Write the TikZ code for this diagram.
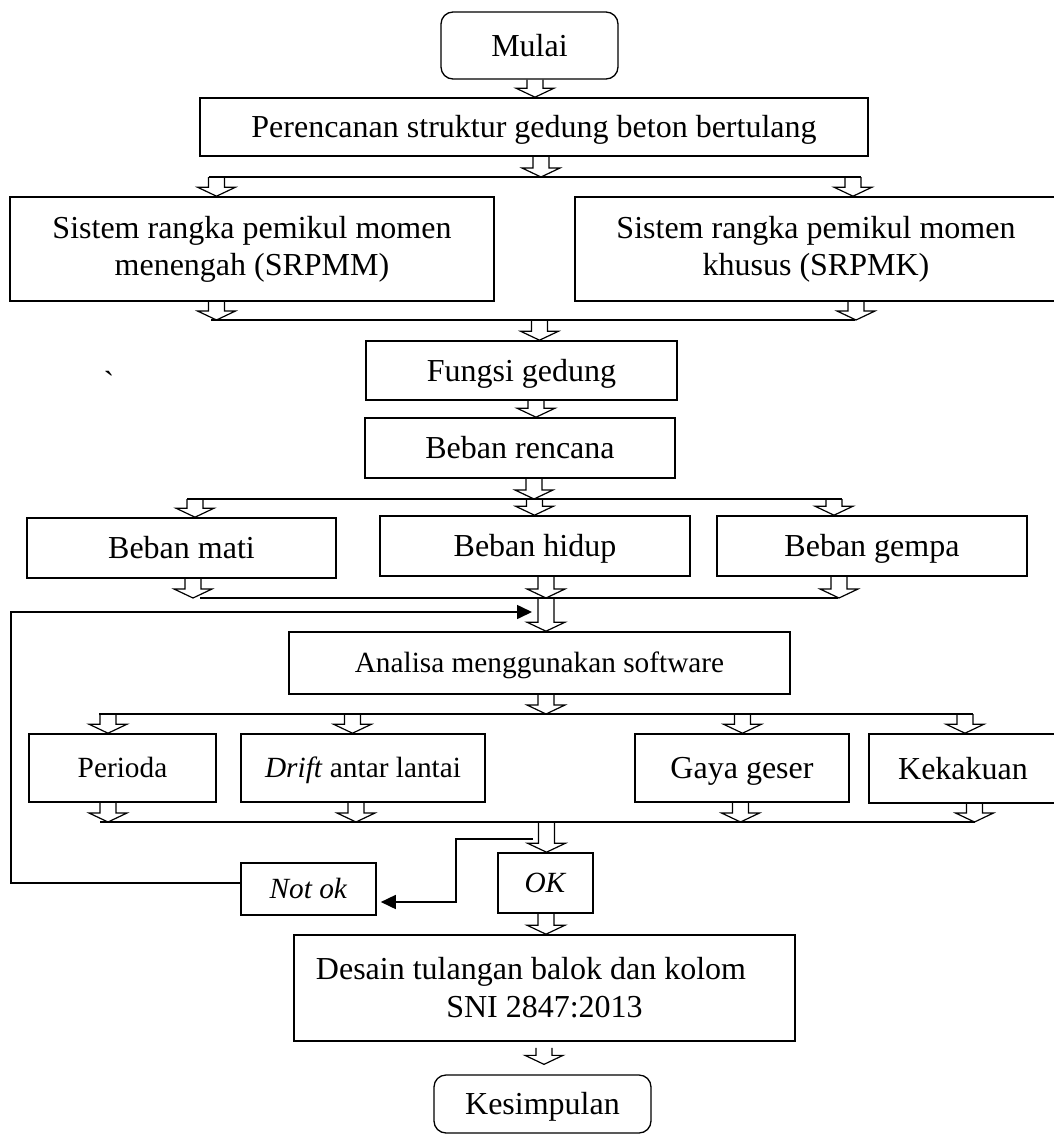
\documentclass[tikz,border=0pt]{standalone}
\usepackage{fontspec}
\setmainfont{Liberation Serif}
\usetikzlibrary{calc,arrows.meta}
\newcommand\harr[2]{%
  \path #1 coordinate (hA) #2 coordinate (hB);
  \draw[hol] let \p1=(hA), \p2=(hB) in
    (\x1-8pt,\y1) -- (\x1-8pt,\y2+9pt) -- (\x1-19pt,\y2+9pt) -- (\x1,\y2)
    -- (\x1+19pt,\y2+9pt) -- (\x1+8pt,\y2+9pt) -- (\x1+8pt,\y1);}
\begin{document}
\begin{tikzpicture}[x=1pt,y=-1pt,
  box/.style={draw, line width=1.6pt, inner sep=0pt, text height=21pt, text depth=0pt,
    font=\fontsize{32}{37}\selectfont},
  sbox/.style={box, text height=19.4pt, font=\fontsize{29.3}{34}\selectfont},
  rbox/.style={box, line width=1.3pt, rounded corners=12pt},
  mbox/.style={draw, line width=1.6pt, inner sep=0pt, align=center},
  hol/.style={line width=1.2pt, line join=miter},
  bus/.style={line width=1.6pt},
  fb/.style={line width=1.6pt, line join=miter, -{Triangle[length=15pt,width=14pt]}}]
\useasboundingbox (0,0) rectangle (1054,1135);

% nodes
\node[rbox, minimum width=177pt, minimum height=67pt] (mulai) at (529.5,45.5) {Mulai};
\node[box, minimum width=668pt, minimum height=58pt] (perenc) at (534,127) {Perencanan struktur gedung beton bertulang};
\node[mbox, minimum width=484pt, minimum height=104pt, font=\fontsize{32}{37}\selectfont] (srpmm) at (252,249)
  {Sistem rangka pemikul momen\\menengah (SRPMM)};
\node[mbox, minimum width=482pt, minimum height=104pt, font=\fontsize{32}{37}\selectfont] (srpmk) at (816,249)
  {Sistem rangka pemikul momen\\khusus (SRPMK)};
\node[box, minimum width=311pt, minimum height=59pt] (fungsi) at (521.5,370.5) {Fungsi gedung};
\node[box, minimum width=310pt, minimum height=60pt] (rencana) at (520,448) {Beban rencana};
\node[box, minimum width=309pt, minimum height=60pt] (mati) at (181.5,548) {Beban mati};
\node[box, minimum width=310pt, minimum height=60pt] (hidup) at (535,546) {Beban hidup};
\node[box, minimum width=310pt, minimum height=60pt] (gempa) at (872,546) {Beban gempa};
\node[sbox, minimum width=501pt, minimum height=62pt] (analisa) at (539.5,663) {Analisa menggunakan software};
\node[sbox, minimum width=187pt, minimum height=68pt] (perioda) at (122.5,768) {Perioda};
\node[sbox, minimum width=244pt, minimum height=68pt] (drift) at (363,768) {\textit{Drift} antar lantai};
\node[box, minimum width=214pt, minimum height=68pt] (gaya) at (742,768) {Gaya geser};
\node[box, minimum width=188pt, minimum height=69pt] (kekak) at (963,768.5) {Kekakuan};
\node[sbox, minimum width=95pt, minimum height=60pt] (ok) at (545.5,883) {\textit{OK}};
\node[sbox, minimum width=135pt, minimum height=52pt] (notok) at (308.5,889) {\textit{Not ok}};
\node[mbox, minimum width=501pt, minimum height=106pt, font=\fontsize{32}{38}\selectfont] (desain) at (544.5,988)
  {Desain tulangan balok dan kolom\hspace*{27pt}\\SNI 2847:2013};
\node[rbox, minimum width=217pt, minimum height=58pt] (kesim) at (542.5,1104) {Kesimpulan};
\node[inner sep=0pt, anchor=base, font=\fontsize{32}{37}\selectfont] (tick) at (109,393) {\textasciigrave};

% bus coordinates
\coordinate (b1l) at (208.5,177); \coordinate (b1r) at (861,177);
\coordinate (b2l) at (211,320);   \coordinate (b2r) at (855,320);
\coordinate (b3l) at (187,499);   \coordinate (b3r) at (842,499);
\coordinate (b4l) at (200,598);   \coordinate (b4r) at (838,598);
\coordinate (b5l) at (99,714);    \coordinate (b5r) at (973,714);
\coordinate (b6l) at (100,822);   \coordinate (b6r) at (975,822);
\draw[bus] (b1l) -- (b1r);
\draw[bus] (b2l) -- (b2r);
\draw[bus] (b3l) -- (b3r);
\draw[bus] (b4l) -- (b4r);
\draw[bus] (b5l) -- (b5r);
\draw[bus] (b6l) -- (b6r);

% hollow arrows
\harr{(mulai.south -| 535,0)}{(perenc.north)}
\harr{(perenc.south -| 541,0)}{(b1l)}
\harr{(b1l -| 216.5,0)}{(srpmm.north)}
\harr{(b1l -| 853,0)}{(srpmk.north)}
\harr{(srpmm.south -| 216.5,0)}{(b2l)}
\harr{(srpmk.south -| 856,0)}{(b2l)}
\harr{(b2l -| 539.5,0)}{(fungsi.north)}
\harr{(fungsi.south -| 536,0)}{(rencana.north)}
\harr{(rencana.south -| 534,0)}{(b3l)}
\harr{(b3l -| 195,0)}{(mati.north)}
\harr{(b3l -| 534.5,0)}{(hidup.north)}
\harr{(b3l -| 834,0)}{(gempa.north)}
\harr{(mati.south -| 193,0)}{(b4l)}
\harr{(hidup.south -| 546,0)}{(b4l)}
\harr{(gempa.south -| 839,0)}{(b4l)}
\harr{(b4l -| 546,0)}{(analisa.north)}
\harr{(analisa.south -| 546,0)}{(b5l)}
\harr{(b5l -| 108,0)}{(perioda.north)}
\harr{(b5l -| 352.5,0)}{(drift.north)}
\harr{(b5l -| 742.5,0)}{(gaya.north)}
\harr{(b5l -| 965,0)}{(kekak.north)}
\harr{(perioda.south -| 108,0)}{(b6l)}
\harr{(drift.south -| 356,0)}{(b6l)}
\harr{(gaya.south -| 740.5,0)}{(b6l)}
\harr{(kekak.south -| 974.5,0)}{(b6l)}
\harr{(b6l -| 546.5,0)}{(ok.north)}
\harr{(ok.south -| 546,0)}{(desain.north)}
\harr{($(desain.south -| 544,0)+(0,6)$)}{($(kesim.north)+(0,-10)$)}

% feedback connectors
\coordinate (fbend) at (532,612);
\coordinate (brst) at (533,839);
\draw[fb] ($(notok.west)+(0,-6)$) -| (11,612) -- (fbend);
\draw[fb] (brst) -| (456,902) -- ($(notok.east)+(4,13)$);
\end{tikzpicture}
\end{document}
